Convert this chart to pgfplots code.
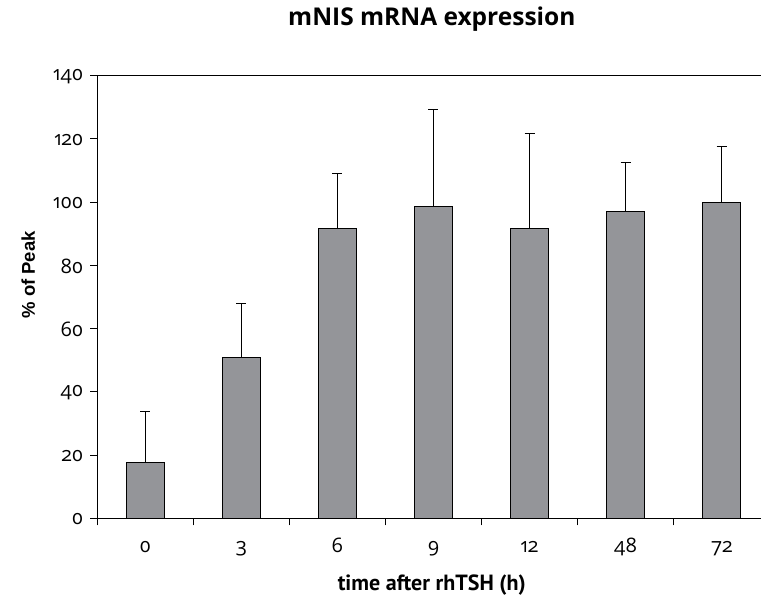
\documentclass[border=0pt]{standalone}
\usepackage{fontspec}
\setmainfont{Open Sans}[Numbers={OldStyle}]
\newfontfamily\titlefont{Open Sans}
\newfontfamily\xlabfont{PT Sans}
\newfontfamily\ylabfont{Liberation Sans}
\newfontfamily\tickfont[Numbers={OldStyle}]{Open Sans}
\newcommand{\tl}[1]{\mbox{\tickfont #1}}
\usepackage{pgfplots}
\usepackage{pgfplotstable}
\pgfplotsset{compat=1.18}
\definecolor{barfill}{RGB}{148,149,153}

\pgfplotstableread{
x y e
0 17.6 16.1
1 50.8 17.0
2 91.6 17.5
3 98.6 30.8
4 91.6 30.1
5 96.9 15.8
6 99.8 17.7
}\datatable

\begin{document}
\begin{tikzpicture}
\begin{axis}[
  name=ax,
  scale only axis,
  width=663.7bp, height=442.6bp,
  xmin=-0.5, xmax=6.41, ymin=0, ymax=140,
  axis x line*=box, axis y line*=left,
  axis line style={black, line width=0.9bp},
  xtick={0,...,6}, xticklabels={\tl{0},\tl{3},\tl{6},\tl{9},\tl{12},\tl{48},\tl{72}},
  minor xtick={-0.5,0.5,...,5.5},
  ytick={0,20,...,140},
  yticklabel={\mbox{\tickfont\pgfmathprintnumber[assume math mode=true]{\tick}}},
  tick align=outside, xtick pos=left, ytick pos=left,
  major tick length=7bp, minor tick length=7bp,
  major x tick style={draw=none},
  tick style={black, line width=0.9bp},
  /pgf/number format/assume math mode=true,
  xticklabel style={font=\fontsize{20bp}{24bp}\tickfont, anchor=base, yshift=-27bp},
  yticklabel style={font=\fontsize{20bp}{24bp}\tickfont, xshift=-3.5bp, yshift=-1bp},
  title={mNIS mRNA expression},
  title style={font=\fontsize{24.5bp}{28bp}\titlefont\bfseries, at={(axis description cs:0.504,1)}, anchor=base, yshift=44.7bp},
  xlabel={time after rhTSH (h)},
  xlabel style={font=\fontsize{22bp}{26bp}\xlabfont\bfseries, at={(axis description cs:0.504,0)}, anchor=base, yshift=-71.7bp},
  ylabel={\% of Peak},
  ylabel style={font=\fontsize{18.5bp}{22bp}\ylabfont\bfseries, at={(axis description cs:-0.0939,0.55)}, anchor=base},
]
\addplot[ybar, bar width=38bp, fill=barfill, draw=black, line width=1bp,
  error bars/.cd, y dir=plus, y explicit,
  error bar style={black, line width=1bp},
  error mark options={rotate=90, mark size=5bp, black, line width=1bp}]
  table[x=x, y=y, y error=e]{\datatable};
\end{axis}
\pgfresetboundingbox
\path[use as bounding box] ([xshift=-97.3bp,yshift=-77.7bp]ax.south west) rectangle ([yshift=75.7bp]ax.north east);
\end{tikzpicture}
\end{document}
